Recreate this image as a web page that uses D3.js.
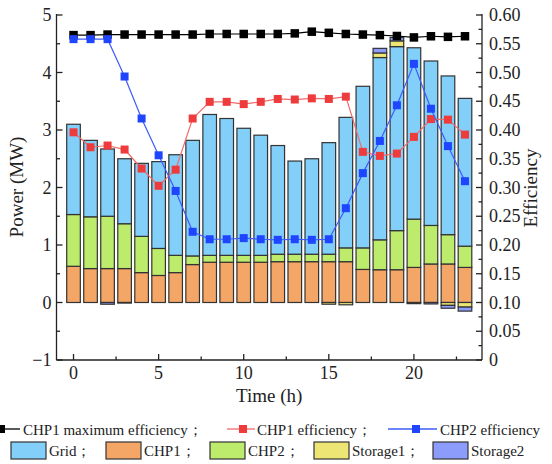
<!DOCTYPE html>
<html><head><meta charset="utf-8">
<script src="https://cdn.jsdelivr.net/npm/d3@7"></script>
<style>body{margin:0;background:#fff}svg{display:block}text{font-family:"Liberation Serif","Times New Roman",serif;fill:#222}</style>
</head><body><svg id="c" width="552" height="464"></svg>
<script>
const hours = d3.range(0, 24);
const chp1 = [0.63,0.59,0.59,0.59,0.52,0.47,0.52,0.66,0.70,0.70,0.70,0.70,0.71,0.71,0.71,0.71,0.71,0.575,0.57,0.57,0.61,0.67,0.67,0.61];
const chp2 = [0.90,0.90,0.91,0.78,0.63,0.47,0.30,0.15,0.12,0.12,0.12,0.12,0.13,0.13,0.13,0.13,0.24,0.375,0.52,0.68,0.84,0.67,0.51,0.37];
const grid = [1.57,1.33,1.17,1.13,1.27,1.51,1.75,2.01,2.45,2.38,2.21,2.09,1.89,1.62,1.66,1.94,2.27,2.81,3.17,3.20,2.98,2.86,2.76,2.57];
const storage1 = [0,0,0,-0.01,0,0,0,0,0,0,0,0,0,0,0,-0.03,-0.04,0,0.08,0.10,-0.02,0,-0.05,-0.08];
const storage2 = [0,0,-0.03,0,0,0,0,0,0,0,0,0,0,0,0,0,0,0,0.08,0.06,0,-0.025,-0.05,-0.07];
const effMax = [0.565,0.565,0.566,0.566,0.566,0.566,0.566,0.566,0.567,0.567,0.567,0.567,0.567,0.568,0.571,0.569,0.567,0.566,0.565,0.5635,0.561,0.563,0.562,0.563];
const effChp1 = [0.396,0.370,0.373,0.366,0.333,0.303,0.331,0.420,0.449,0.449,0.445,0.449,0.454,0.453,0.455,0.454,0.458,0.362,0.355,0.359,0.388,0.419,0.418,0.392];
const effChp2 = [0.558,0.558,0.558,0.493,0.420,0.356,0.294,0.223,0.210,0.210,0.212,0.210,0.209,0.210,0.209,0.210,0.264,0.325,0.381,0.443,0.515,0.437,0.372,0.311];
const powerTicks = [-1,0,1,2,3,4,5];
const effTicks = [0,0.05,0.10,0.15,0.20,0.25,0.30,0.35,0.40,0.45,0.50,0.55,0.60];
const timeTicks = [0,5,10,15,20];
const seriesKeys = ["CHP1","CHP2","Grid","Storage1","Storage2"];
const seriesColors = {Grid:"#82CFFA",CHP1:"#F4A666",CHP2:"#BDEB6B",Storage1:"#EDE574",Storage2:"#8C9CFA"};

const svg = d3.select("#c");
const L=56.5, R=482, T=15, B=360;
const x = d3.scaleLinear().domain([-1,24]).range([L,R]);
const y = d3.scaleLinear().domain([-1,5]).range([B,T]);
const y2 = d3.scaleLinear().domain([0,0.6]).range([B,T]);

const rows = hours.map((h,i)=>({h, CHP1:chp1[i], CHP2:chp2[i], Grid:grid[i], Storage1:storage1[i], Storage2:storage2[i]}));
const stack = d3.stack().keys(seriesKeys).offset(d3.stackOffsetDiverging)(rows);
const bw = (x(1)-x(0))*0.8;
stack.forEach(s=>{
  svg.append("g").selectAll("rect").data(s.filter(d=>Math.abs(d[1]-d[0])>1e-9)).join("rect")
    .attr("x",d=>x(d.data.h)-bw/2).attr("width",bw)
    .attr("y",d=>y(Math.max(d[0],d[1]))).attr("height",d=>Math.abs(y(d[0])-y(d[1])))
    .attr("fill",seriesColors[s.key]).attr("stroke","#333").attr("stroke-width",1.2);
});

function line(vals, lc, mc, ms, lw){
  const g = svg.append("g");
  g.append("path").datum(vals).attr("fill","none").attr("stroke",lc).attr("stroke-width",lw)
   .attr("d", d3.line().x((d,i)=>x(hours[i])).y(d=>y2(d)));
  g.selectAll("rect").data(vals).join("rect")
   .attr("x",(d,i)=>x(hours[i])-ms/2).attr("y",d=>y2(d)-ms/2).attr("width",ms).attr("height",ms).attr("fill",mc);
}
line(effMax,"#000","#000",8.5,1.2);
line(effChp1,"#F26A6A","#EE3B3B",8,1.2);
line(effChp2,"#3D5BFF","#1F45FF",8,1.2);

// axes
const ax = svg.append("g").attr("stroke","#222").attr("stroke-width",1.3);
ax.append("line").attr("x1",L).attr("x2",L).attr("y1",T-1).attr("y2",B);
ax.append("line").attr("x1",R).attr("x2",R).attr("y1",T-1).attr("y2",B);
ax.append("line").attr("x1",L).attr("x2",R).attr("y1",B).attr("y2",B);
const maj=6, mnr=3.5;
d3.range(-1,5.01,0.5).forEach(v=>{const big=Math.abs(v-Math.round(v))<1e-6;
  ax.append("line").attr("x1",L).attr("x2",L+(big?maj:mnr)).attr("y1",y(v)).attr("y2",y(v));});
d3.range(0,0.601,0.025).forEach(v=>{const big=Math.abs(v*20-Math.round(v*20))<1e-6;
  ax.append("line").attr("x1",R).attr("x2",R-(big?maj:mnr)).attr("y1",y2(v)).attr("y2",y2(v));});
d3.range(0,23,2.5).forEach(v=>{const big=v%5===0;
  ax.append("line").attr("y1",B).attr("y2",B-(big?maj:mnr)).attr("x1",x(v)).attr("x2",x(v));});

const fmtP = d3.format("d");
svg.append("g").selectAll("text").data(powerTicks).join("text")
  .attr("x",L-5).attr("y",d=>y(d)).attr("dy","0.34em").attr("text-anchor","end").attr("font-size",18).text(d=>fmtP(d));
svg.append("g").selectAll("text").data(effTicks).join("text")
  .attr("x",R+7).attr("y",d=>y2(d)).attr("dy","0.34em").attr("text-anchor","start").attr("font-size",18)
  .text(d=>d===0?"0":d3.format(".2f")(d));
svg.append("g").selectAll("text").data(timeTicks).join("text")
  .attr("x",d=>x(d)).attr("y",B+19).attr("text-anchor","middle").attr("font-size",18).text(d=>d);

svg.append("text").attr("x",x(11.5)).attr("y",B+42).attr("text-anchor","middle").attr("font-size",19).text("Time (h)");
svg.append("text").attr("transform","translate(23,187) rotate(-90)").attr("text-anchor","middle").attr("font-size",19).text("Power (MW)");
svg.append("text").attr("transform","translate(537,188) rotate(-90)").attr("text-anchor","middle").attr("font-size",19).text("Efficiency");

// legend
const lg = svg.append("g");
const lineItems = [
  {x1:-8,x2:20,m:1,tx:23,lc:"#000",mc:"#000",t:"CHP1 maximum efficiency；"},
  {x1:227,x2:255,m:243,tx:257,lc:"#F26A6A",mc:"#EE3B3B",t:"CHP1 efficiency；"},
  {x1:388,x2:437,m:416,tx:440,lc:"#3D5BFF",mc:"#1F45FF",t:"CHP2 efficiency"}];
lineItems.forEach(d=>{
  lg.append("line").attr("x1",d.x1).attr("x2",d.x2).attr("y1",429).attr("y2",429).attr("stroke",d.lc).attr("stroke-width",1.3);
  lg.append("rect").attr("x",d.m-4).attr("y",425).attr("width",8).attr("height",8).attr("fill",d.mc);
  lg.append("text").attr("x",d.tx).attr("y",435).attr("font-size",15).text(d.t);
});
const boxItems = [
  {k:"Grid",x:11,t:"Grid；"},{k:"CHP1",x:106,t:"CHP1；"},{k:"CHP2",x:210,t:"CHP2；"},
  {k:"Storage1",x:314,t:"Storage1；"},{k:"Storage2",x:433,t:"Storage2"}];
boxItems.forEach(d=>{
  lg.append("rect").attr("x",d.x).attr("y",442).attr("width",35).attr("height",17).attr("fill",seriesColors[d.k]).attr("stroke","#333").attr("stroke-width",1.2);
  lg.append("text").attr("x",d.x+38).attr("y",456).attr("font-size",15).text(d.t);
});
</script></body></html>
